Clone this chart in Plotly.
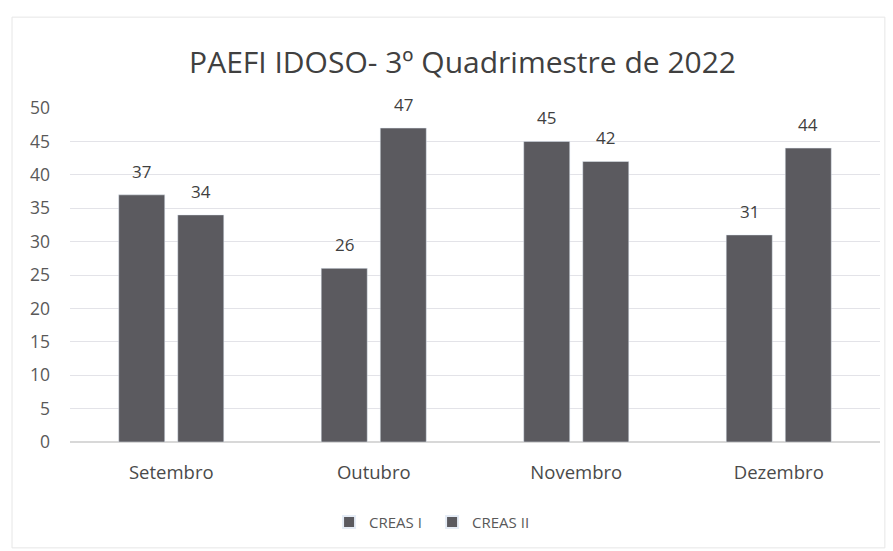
import plotly.graph_objects as go

months = ["Setembro", "Outubro", "Novembro", "Dezembro"]
creas_i = [37, 26, 45, 31]
creas_ii = [34, 47, 42, 44]
y_ticks = [0, 5, 10, 15, 20, 25, 30, 35, 40, 45, 50]

FONT = "'Open Sans', sans-serif"
BAR = "#5b5a5f"

fig = go.Figure()
fig.add_trace(go.Bar(name="CREAS I", x=months, y=creas_i, marker_color=BAR))
fig.add_trace(go.Bar(name="CREAS II", x=months, y=creas_ii, marker_color=BAR))

# value labels above the bars
for vals, shift in ((creas_i, -29.5), (creas_ii, 29.5)):
    for m, v in zip(months, vals):
        fig.add_annotation(x=m, y=v, xref="x", yref="y", text=str(v), showarrow=False,
                           xshift=shift, yshift=10, yanchor="bottom",
                           font=dict(size=17, color="#3f3f3f", family=FONT))

fig.update_layout(
    width=893, height=551,
    margin=dict(l=70, r=13, t=108, b=109),
    paper_bgcolor="white", plot_bgcolor="white",
    font=dict(family=FONT, color="#595959"),
    title=dict(text="PAEFI IDOSO- 3º Quadrimestre de 2022", x=0.518, xanchor="center",
               y=0.887, yanchor="middle",
               font=dict(size=30, color="#404040", family=FONT)),
    barmode="group", bargap=0.417, bargroupgap=0.22,
    showlegend=True,
    legend=dict(orientation="h", x=0.447, xanchor="center", y=-0.24, yanchor="middle",
                font=dict(size=15, color="#595959"),
                entrywidth=58, entrywidthmode="pixels",
                itemsizing="constant"),
    yaxis=dict(range=[0, 50], tickvals=y_ticks, ticktext=[str(v) for v in y_ticks],
               showgrid=True, gridcolor="#e3e3e8", gridwidth=1, zeroline=True,
               zerolinecolor="#d8d8d8", tickfont=dict(size=17.5, color="#595959"),
               ticks="", ticklabelstandoff=19, showline=False),
    xaxis=dict(tickfont=dict(size=18.5, color="#4a4a4a"), ticks="", showline=False,
               ticklabelstandoff=17),
)

fig.add_shape(type="rect", xref="paper", yref="paper",
              x0=-0.0716, x1=1.006, y0=-0.317, y1=1.272,
              line=dict(color="#e6e6e6", width=1), fillcolor="rgba(0,0,0,0)", layer="below")

fig.write_html("out.html", config={"displayModeBar": False},
               post_script="document.body.style.margin='0px';")
